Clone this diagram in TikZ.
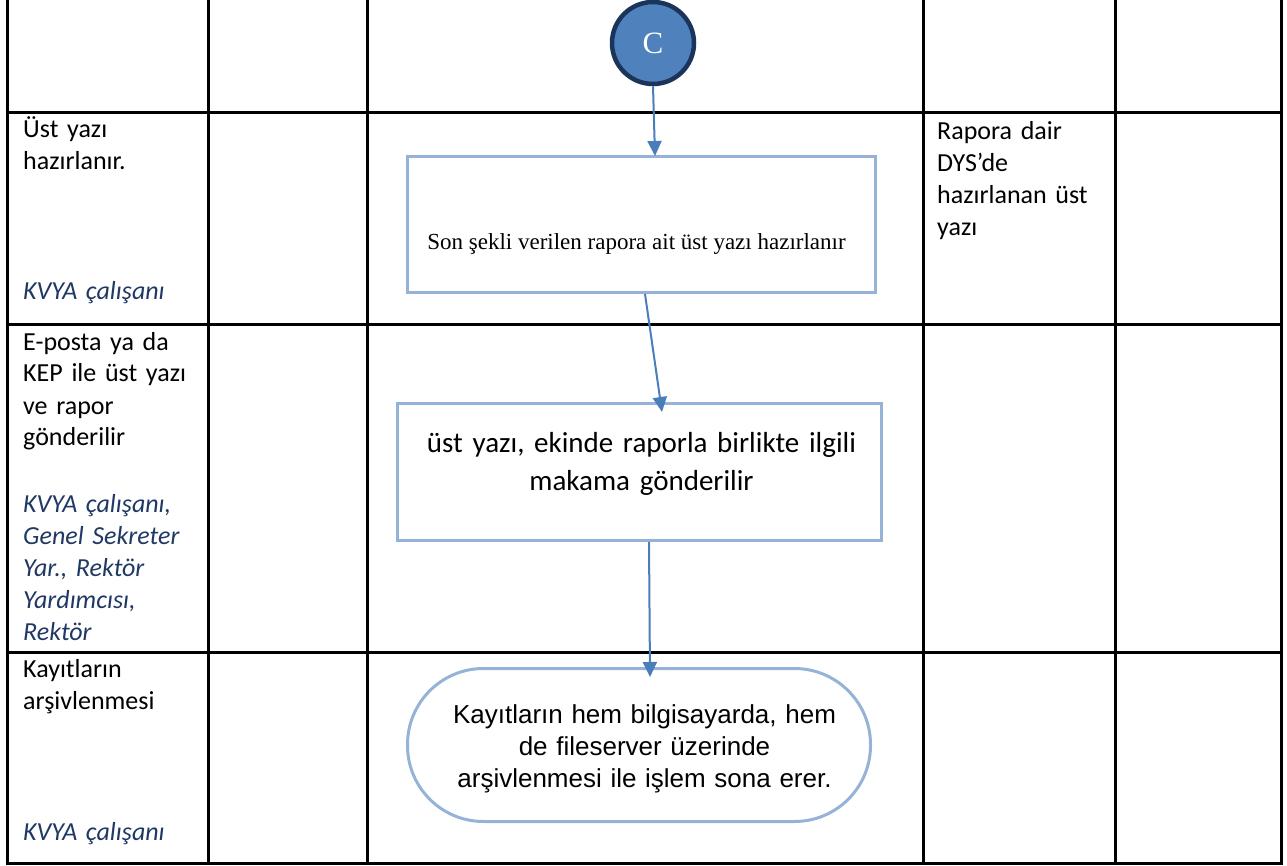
\documentclass[tikz,border=0pt]{standalone}
\usepackage{fontspec}
\setmainfont{Carlito}
\newfontfamily\timesf{Liberation Serif}
\newfontfamily\arialf{Liberation Sans}
\usetikzlibrary{arrows.meta,calc}
\definecolor{gridc}{HTML}{000000}
\definecolor{boxc}{HTML}{95B3D7}
\definecolor{arrc}{HTML}{4A7EBB}
\definecolor{namec}{HTML}{1F3864}
\definecolor{circfill}{HTML}{4F81BD}
\definecolor{circdraw}{HTML}{1B3459}
\tikzset{
  grid/.style={line width=3pt, draw=gridc},
  procbox/.style={draw=boxc, line width=3pt, rectangle, inner sep=0pt},
  termbox/.style={draw=boxc, line width=3pt, rectangle, rounded corners=76pt, inner sep=0pt},
  arr/.style={draw=arrc, line width=2pt, -{Triangle[length=15pt,width=14pt]}},
  celltxt/.style={inner sep=0pt, anchor=base west, text width=185pt, align=left, font=\fontsize{26}{32}\selectfont},
  nametxt/.style={celltxt, text=namec, font=\fontsize{26}{32}\selectfont\itshape},
}
\begin{document}
\begin{tikzpicture}[x=1pt,y=-1pt]
\useasboundingbox (0,0) rectangle (1287,866);
% table grid
\foreach \xx in {7,208,367,923,1115,1281} \draw[grid] (\xx,0) -- (\xx,864.5);
\foreach \yy in {113,325,652,863} \draw[grid] (5.5,\yy) -- (1282.5,\yy);
% left column
\node[celltxt] (l2) at (23,138) {Üst yazı\\hazırlanır.};
\node[nametxt] (n2) at (23,300) {KVYA çalışanı};
\node[celltxt] (l3) at (23,350) {E-posta ya da\\KEP ile üst yazı\\ve rapor\\gönderilir};
\node[nametxt] (n3) at (23,512) {KVYA çalışanı,\\Genel Sekreter\\Yar., Rektör\\Yardımcısı,\\Rektör};
\node[celltxt] (l4) at (23,677) {Kayıtların\\arşivlenmesi};
\node[nametxt] (n4) at (23,840) {KVYA çalışanı};
% document column
\node[celltxt, text width=170pt] (d2) at (937,140) {Rapora dair\\DYS’de\\hazırlanan üst\\yazı};
% flow
\node[circle, fill=circfill, draw=circdraw, line width=4.5pt, minimum size=82pt, inner sep=0pt,
      text=white, font=\timesf\fontsize{31}{34}\selectfont] (c) at (653,43) {C};
\node[procbox, minimum width=468pt, minimum height=136pt] (b1) at (641.5,224.5) {};
\node[inner sep=0pt, anchor=base, font=\timesf\fontsize{23}{28}\selectfont] (b1t) at (636.5,250) {Son şekli verilen rapora ait üst yazı hazırlanır};
\node[procbox, minimum width=484pt, minimum height=137pt] (b2) at (639.5,472) {};
\node[inner sep=0pt, anchor=base, text width=470pt, align=center, font=\fontsize{29}{38}\selectfont] (b2t) at (641.5,452) {üst yazı, ekinde raporla birlikte ilgili\\makama gönderilir};
\node[termbox, minimum width=463pt, minimum height=153pt] (t) at (639,745) {};
\node[inner sep=0pt, anchor=base, text width=440pt, align=center, font=\arialf\fontsize{26}{32}\selectfont] (tt) at (644.5,723) {Kayıtların hem bilgisayarda, hem\\de fileserver üzerinde\\arşivlenmesi ile işlem sona erer.};
% connectors
\draw[arr] (c.south) -- ([xshift=13.5pt,yshift=-1pt]b1.north);
\draw[arr] ([xshift=3.5pt]b1.south) -- ([xshift=22.5pt,yshift=-10pt]b2.north);
\draw[arr] ([xshift=9.5pt]b2.south) -- ([xshift=11pt,yshift=-10pt]t.north);
\end{tikzpicture}
\end{document}
